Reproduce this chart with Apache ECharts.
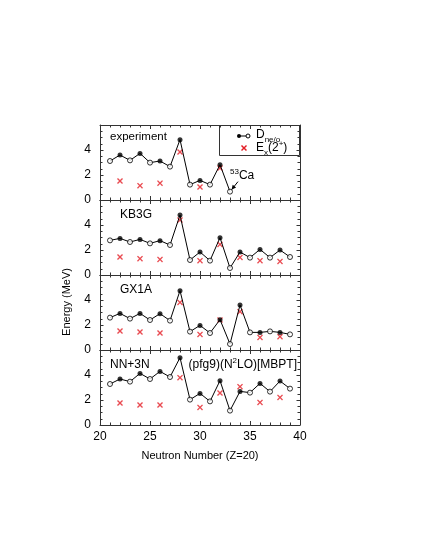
<!DOCTYPE html>
<html>
<head>
    <meta charset="utf-8">
    <title>Ca isotopes - D and E(2+)</title>
    <script src="https://cdn.jsdelivr.net/npm/echarts@6/dist/echarts.min.js"></script>
    <style>
        body { margin: 0; background: #fff; }
    </style>
</head>
<body>
<div id="main" style="width:425px; height:550px;"></div>
<script>
    // neutron numbers
    var nD = [21, 22, 23, 24, 25, 26, 27, 28, 29, 30, 31, 32, 33, 34, 35, 36, 37, 38, 39];
    var nE = [22, 24, 26, 28, 30, 32, 34, 36, 38];

    // D_ne/o
    var expD = [3.12, 3.6, 3.17, 3.73, 2.99, 3.12, 2.67, 4.83, 1.23, 1.57, 1.23, 2.83, 0.67];
    var kb3gD = [2.77, 2.93, 2.64, 2.85, 2.53, 2.75, 2.4, 4.8, 1.2, 1.84, 1.15, 2.99, 0.56, 1.84, 1.39, 2.05, 1.39, 2.0, 1.44];
    var gx1aD = [2.59, 2.93, 2.51, 2.93, 2.4, 2.91, 2.35, 4.75, 1.47, 1.97, 1.36, 2.43, 0.48, 3.6, 1.41, 1.41, 1.49, 1.41, 1.25];
    var nn3nD = [3.28, 3.68, 3.47, 4.13, 3.68, 4.29, 3.84, 5.39, 2.03, 2.53, 1.89, 3.55, 1.15, 2.69, 2.59, 3.33, 2.67, 3.52, 2.91];

    // Ex(2+)
    var expE = [1.52, 1.15, 1.35, 3.84, 1.04, 2.56];
    var kb3gE = [1.44, 1.31, 1.25, 4.4, 1.15, 2.45, 1.41, 1.15, 1.09];
    var gx1aE = [1.52, 1.44, 1.36, 3.81, 1.25, 2.4, 3.07, 1.01, 1.07];
    var nn3nE = [1.76, 1.6, 1.6, 3.79, 1.41, 2.56, 3.07, 1.81, 2.21];

    var panelNames = ['experiment', 'KB3G', 'GX1A', 'NN+3N'];
    var xTicks = [20, 25, 30, 35, 40];
    var yTicks = [0, 2, 4];

    var allD = [expD, kb3gD, gx1aD, nn3nD];
    var allE = [expE, kb3gE, gx1aE, nn3nE];

    var font = 'Liberation Sans, Arial, Helvetica, sans-serif';
    var red = '#e31e26';
    var crossPath = 'path://M0,1.6L1.6,0L5,3.4L8.4,0L10,1.6L6.6,5L10,8.4L8.4,10L5,6.6L1.6,10L0,8.4L3.4,5Z';

    // text width helper for placing sub/superscripts
    var ctx = document.createElement('canvas').getContext('2d');
    function tw(s, size) {
        ctx.font = size + 'px ' + font;
        return ctx.measureText(s).width;
    }

    var myChart = echarts.init(document.getElementById('main'));

    var grids = [], xAxes = [], yAxes = [], series = [];
    for (var i = 0; i < 4; i++) {
        grids.push({ left: 100, width: 200, top: 125 + 75 * i, height: 75 });
        var bottom = (i === 3);
        // bottom x
        xAxes.push({
            gridIndex: i, type: 'value', min: 20, max: 40, interval: 5, position: 'bottom',
            axisLine: { onZero: false, lineStyle: { color: '#333', width: 1 } },
            axisTick: { inside: true, length: 4, lineStyle: { color: '#333' } },
            minorTick: { show: true, splitNumber: 5, length: 2.5, lineStyle: { color: '#333' } },
            axisLabel: {
                show: bottom, color: '#000', fontSize: 12, fontFamily: font, margin: 6,
                formatter: function (v) { return xTicks.indexOf(v) >= 0 ? v : ''; }
            },
            splitLine: { show: false },
            name: bottom ? 'Neutron Number (Z=20)' : '',
            nameLocation: 'middle', nameGap: 25,
            nameTextStyle: { color: '#000', fontSize: 11, fontFamily: font }
        });
        // top x (ticks only)
        xAxes.push({
            gridIndex: i, type: 'value', min: 20, max: 40, interval: 5, position: 'top',
            axisLine: { onZero: false, lineStyle: { color: '#333', width: 1 } },
            axisTick: { inside: true, length: 4, lineStyle: { color: '#333' } },
            minorTick: { show: true, splitNumber: 5, length: 2.5, lineStyle: { color: '#333' } },
            axisLabel: { show: false },
            splitLine: { show: false }
        });
        yAxes.push({
            gridIndex: i, type: 'value', min: 0, max: 6, interval: 2, position: 'left',
            axisLine: { show: true, onZero: false, lineStyle: { color: '#333', width: 1 } },
            axisTick: { inside: true, length: 3.5, lineStyle: { color: '#333' } },
            minorTick: { show: true, splitNumber: 4, length: 2.5, lineStyle: { color: '#333' } },
            axisLabel: {
                color: '#000', fontSize: 12, fontFamily: font, margin: 9,
                formatter: function (v) { return yTicks.indexOf(v) >= 0 ? v : ''; }
            },
            splitLine: { show: false }
        });
        yAxes.push({
            gridIndex: i, type: 'value', min: 0, max: 6, interval: 2, position: 'right',
            axisLine: { show: true, onZero: false, lineStyle: { color: '#333', width: 1 } },
            axisTick: { inside: true, length: 3.5, lineStyle: { color: '#333' } },
            minorTick: { show: true, splitNumber: 4, length: 2.5, lineStyle: { color: '#333' } },
            axisLabel: { show: false },
            splitLine: { show: false }
        });

        var d = allD[i], e = allE[i];
        var lineData = [], oddData = [], evenData = [], eData = [];
        for (var k = 0; k < d.length; k++) {
            lineData.push([nD[k], d[k]]);
            if (nD[k] % 2 === 1) oddData.push([nD[k], d[k]]);
            else evenData.push([nD[k], d[k]]);
        }
        for (var k = 0; k < e.length; k++) eData.push([nE[k], e[k]]);

        series.push({
            type: 'scatter', xAxisIndex: 2 * i, yAxisIndex: 2 * i, data: eData,
            symbol: crossPath, symbolSize: 6, itemStyle: { color: red }, z: 2
        });
        series.push({
            type: 'line', xAxisIndex: 2 * i, yAxisIndex: 2 * i, data: lineData,
            showSymbol: false, symbol: 'none', lineStyle: { color: '#000', width: 1 }, z: 3
        });
        series.push({
            type: 'scatter', xAxisIndex: 2 * i, yAxisIndex: 2 * i, data: evenData,
            symbol: 'circle', symbolSize: 5, itemStyle: { color: '#000' }, z: 4
        });
        series.push({
            type: 'scatter', xAxisIndex: 2 * i, yAxisIndex: 2 * i, data: oddData,
            symbol: 'circle', symbolSize: 5,
            itemStyle: { color: '#fff', borderColor: '#000', borderWidth: 1 }, z: 4
        });
    }

    function t(x, y, s, size) {
        return {
            type: 'text', x: x, y: y, z: 11,
            style: { text: s, fill: '#000', fontFamily: font, fontSize: size, verticalAlign: 'top' }
        };
    }

    var graphic = [
        t(110, 131, panelNames[0], 11.5),
        t(120, 209, panelNames[1], 12),
        t(120, 284, panelNames[2], 12),
        t(110, 359, panelNames[3], 12),
        // y axis title
        {
            type: 'text', x: 67, y: 302, rotation: Math.PI / 2,
            style: { text: 'Energy (MeV)', fill: '#000', fontFamily: font, fontSize: 11, align: 'center', verticalAlign: 'middle' }
        },
        // legend box
        {
            type: 'rect', shape: { x: 219.5, y: 125.5, width: 80, height: 30 },
            style: { fill: 'none', stroke: '#333', lineWidth: 1 }, z: 10
        },
        { type: 'line', shape: { x1: 238, y1: 136, x2: 248, y2: 136 }, style: { stroke: '#000', lineWidth: 1 }, z: 11 },
        { type: 'circle', shape: { cx: 239, cy: 136, r: 2 }, style: { fill: '#000' }, z: 12 },
        { type: 'circle', shape: { cx: 248, cy: 136, r: 2 }, style: { fill: '#fff', stroke: '#000', lineWidth: 1 }, z: 12 },
        // legend red cross
        { type: 'line', shape: { x1: 241.5, y1: 145.5, x2: 246.5, y2: 150.5 }, style: { stroke: red, lineWidth: 1.5 }, z: 12 },
        { type: 'line', shape: { x1: 246.5, y1: 145.5, x2: 241.5, y2: 150.5 }, style: { stroke: red, lineWidth: 1.5 }, z: 12 }
    ];

    // (pfg9)(N^2LO)[MBPT], right-aligned near the frame
    var p1 = '(pfg9)(N', p2 = '2', p3 = 'LO)[MBPT]';
    var wTot = tw(p1, 12) + tw(p2, 8) + tw(p3, 12);
    var px = 297 - wTot;
    graphic.push(t(px, 359, p1, 12));
    px += tw(p1, 12);
    graphic.push(t(px, 357, p2, 8));
    px += tw(p2, 8);
    graphic.push(t(px, 359, p3, 12));

    // legend labels D_ne/o and E_x(2+)
    var lx = 256;
    graphic.push(t(lx, 129, 'D', 12));
    graphic.push(t(lx + tw('D', 12), 136, 'ne/o', 8));
    graphic.push(t(lx, 142, 'E', 12));
    var ex2 = lx + tw('E', 12);
    graphic.push(t(ex2, 149, 'x', 8));
    ex2 += tw('x', 8);
    graphic.push(t(ex2, 142, '(2', 12));
    ex2 += tw('(2', 12);
    graphic.push(t(ex2, 140, '+', 8));
    ex2 += tw('+', 8);
    graphic.push(t(ex2, 142, ')', 12));

    // 53Ca annotation
    graphic.push(t(230, 168, '53', 8));
    graphic.push(t(230 + tw('53', 8), 170, 'Ca', 12));

    var option = {
        animation: false,
        grid: grids,
        xAxis: xAxes,
        yAxis: yAxes,
        series: series
    };
    myChart.setOption(option);

    // arrow to the 53Ca point, placed from the data position
    var tip = myChart.convertToPixel({ xAxisIndex: 0, yAxisIndex: 0 }, [33, expD[12]]);
    var sx = tip[0] + 8, sy = tip[1] - 10;
    var ang = Math.atan2(tip[1] - sy, tip[0] - sx);
    var ax = tip[0] - 2.5 * Math.cos(ang), ay = tip[1] - 2.5 * Math.sin(ang);
    var hl = 5, hw = 0.45;
    graphic.push({ type: 'line', shape: { x1: sx, y1: sy, x2: ax, y2: ay }, style: { stroke: '#000', lineWidth: 1 } });
    graphic.push({
        type: 'polygon',
        shape: {
            points: [
                [ax, ay],
                [ax - hl * Math.cos(ang - hw), ay - hl * Math.sin(ang - hw)],
                [ax - hl * Math.cos(ang + hw), ay - hl * Math.sin(ang + hw)]
            ]
        },
        style: { fill: '#000' }
    });
    myChart.setOption({ graphic: graphic });
</script>
</body>
</html>
